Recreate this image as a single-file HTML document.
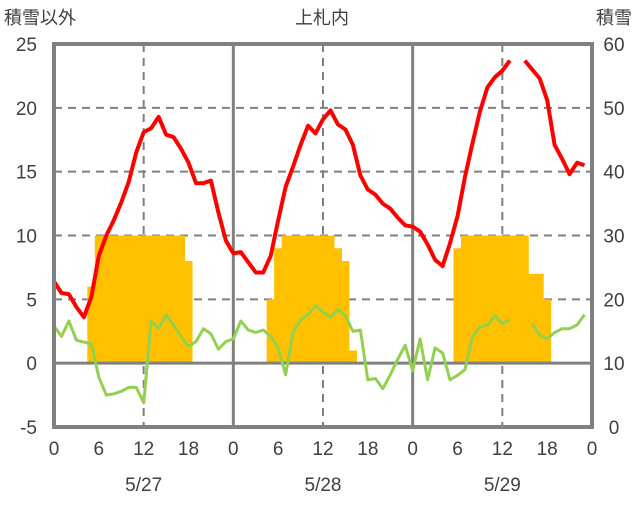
<!DOCTYPE html>
<html><head><meta charset="utf-8"><style>
body{margin:0;background:#fff;}
svg text{font-family:"Liberation Sans","Noto Sans CJK JP",sans-serif;fill:#404040;}
</style></head><body>
<svg id="chart" width="636" height="501" viewBox="0 0 636 501" xmlns="http://www.w3.org/2000/svg">
<text x="4" y="24" font-size="18">積雪以外</text>
<text x="322" y="24" font-size="18" text-anchor="middle">上札内</text>
<text x="632" y="24" font-size="18" text-anchor="end">積雪</text>
<g id="grid"></g><g id="bars"></g><g id="zero"></g><g id="lines"></g><g id="labels"></g>
<rect x="54" y="44" width="538" height="383" fill="none" stroke="#808080" stroke-width="4"/>
</svg>
<script>
const hours = Array.from({length:72},(_,i)=>i);
const redSeries = [6.4,5.5,5.4,4.4,3.6,5.2,8.4,10.0,11.2,12.6,14.2,16.5,18.1,18.4,19.3,17.9,17.7,16.8,15.7,14.1,14.1,14.3,11.8,9.6,
8.6,8.7,7.9,7.1,7.1,8.4,11.2,13.8,15.4,17.1,18.6,18.0,19.1,19.8,18.7,18.3,17.1,14.7,13.6,13.2,12.5,12.1,11.4,10.8,
10.7,10.3,9.3,8.1,7.6,9.4,11.5,14.6,17.2,19.7,21.6,22.4,22.9,23.7,null,23.7,23.0,22.3,20.6,17.1,16.0,14.8,15.7,15.5];
const greenSeries = [2.9,2.1,3.3,1.8,1.65,1.5,-1.1,-2.5,-2.4,-2.2,-1.9,-1.9,-3.1,3.3,2.7,3.8,3.0,2.1,1.3,1.7,2.7,2.3,1.1,1.7,
1.9,3.3,2.6,2.4,2.6,2.1,1.2,-0.9,2.4,3.4,3.8,4.5,4.0,3.6,4.2,3.7,2.5,2.6,-1.3,-1.2,-2.0,-0.9,0.3,1.4,
-0.6,1.9,-1.3,1.2,0.8,-1.3,-0.95,-0.5,2.1,2.8,3.0,3.7,3.1,3.4,null,null,3.1,2.2,1.9,2.4,2.7,2.7,3.0,3.8];
const snowDepth = [null,null,null,null,null,22,30,30,30,30,30,30,30,30,30,30,30,30,26,null,null,null,null,null,
null,null,null,null,null,20,28,30,30,30,30,30,30,30,28,26,12,null,null,null,null,null,null,null,
null,null,null,null,null,null,28,30,30,30,30,30,30,30,30,30,24,24,20,null,null,null,null,null];
const leftTicks = [-5,0,5,10,15,20,25];
const rightTicks = [0,10,20,30,40,50,60];
const xTickLabels = ["0","6","12","18","0","6","12","18","0","6","12","18","0"];
const dateLabels = ["5/27","5/28","5/29"];
const barBase = 10;

const NS="http://www.w3.org/2000/svg";
const X0=54,X1=592,Y0=44,Y1=427;
const xs=h=>X0+(X1-X0)*h/72;
const yl=v=>Y1-(v+5)/30*(Y1-Y0);
const yr=v=>Y1-v/60*(Y1-Y0);
function mk(tag,attrs,parent){const e=document.createElementNS(NS,tag);for(const k in attrs)e.setAttribute(k,attrs[k]);document.getElementById(parent).appendChild(e);return e;}
const bw=(X1-X0)/72;
snowDepth.forEach((v,i)=>{if(v==null)return;
 const r=mk('rect',{x:xs(i)-bw/2-0.3,y:yr(v),width:bw+0.6,height:yr(barBase)-yr(v),fill:'#FFC000'},'bars');
 
 });
leftTicks.forEach(v=>{
 if(v>-5&&v<25){const l=mk('line',{x1:X0,x2:X1,y1:yl(v),y2:yl(v),stroke:'#808080','stroke-width':v===0?3:2,'stroke-dasharray':v===0?'none':'8,6'},v===0?'zero':'grid');
 
 }
 const t=mk('text',{x:37,y:yl(v)+7,'font-size':19,'text-anchor':'end'},'labels');t.textContent=v;
 
 });
rightTicks.forEach(v=>{const t=mk('text',{x:614,y:yr(v)+7,'font-size':19,'text-anchor':'middle'},'labels');t.textContent=v;
 
 });
xTickLabels.forEach((s,i)=>{const h=i*6;
 if(h%12===0&&h>0&&h<72){const solid=h%24===0;const l=mk('line',{x1:xs(h),x2:xs(h),y1:Y0,y2:Y1,stroke:'#808080','stroke-width':solid?3:2,'stroke-dasharray':solid?'none':'8,6'},solid?'zero':'grid');
 
 }
 const t=mk('text',{x:xs(h),y:455,'font-size':19,'text-anchor':'middle'},'labels');t.textContent=s;
 
 });
dateLabels.forEach((s,i)=>{const t=mk('text',{x:xs(i*24+12),y:491,'font-size':19,'text-anchor':'middle'},'labels');t.textContent=s;
 
 });
function path(arr,color,w,name){let d='',pen=false;
 arr.forEach((v,i)=>{if(v==null){pen=false;return;}d+=(pen?'L':'M')+xs(i).toFixed(1)+','+yl(v).toFixed(1);pen=true;});
 const p=mk('path',{d:d,fill:'none',stroke:color,'stroke-width':w,'stroke-linejoin':'round'},'lines');
 
 }
path(greenSeries,'#92D050',3,'green-series-line');
path(redSeries,'#FF0000',4,'red-series-line');
</script>
</body></html>
